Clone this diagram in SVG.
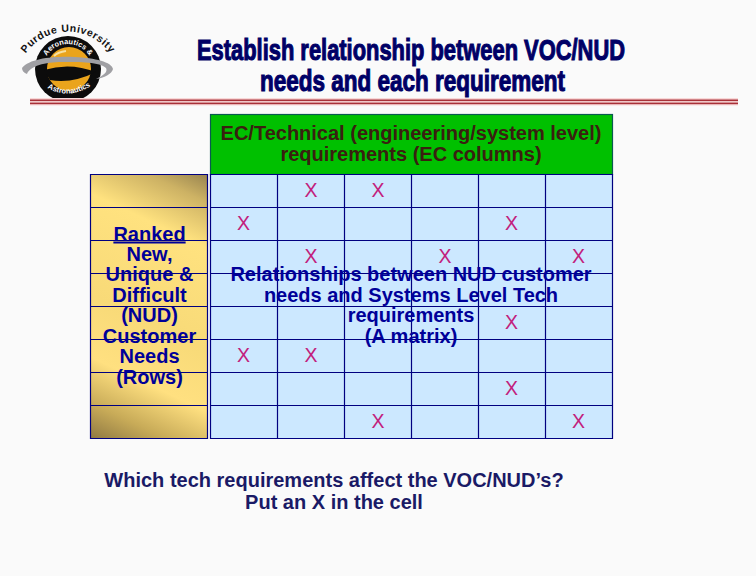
<svg xmlns="http://www.w3.org/2000/svg" width="756" height="576" viewBox="0 0 756 576">
<style>
text{font-family:"Liberation Sans",Arial,sans-serif}
.t{font-size:30px;font-weight:bold;fill:#000066;stroke:#000066;stroke-width:1.1px;text-anchor:start}
.b{font-size:20px;font-weight:bold;fill:#000099;text-anchor:middle}
.h{font-size:20px;font-weight:bold;fill:#3a2010;text-anchor:middle}
.q{font-size:20px;font-weight:bold;fill:#1a1a66;text-anchor:middle}
.x{font-size:19.5px;fill:#c2207c;text-anchor:middle}
.g{stroke:#000080;stroke-width:1.2;fill:none}
.l{font-size:7.5px;font-weight:bold;fill:#fff;text-anchor:middle}
</style>
<defs>
<linearGradient id="gold" gradientUnits="userSpaceOnUse" x1="212" y1="172" x2="86" y2="440">
<stop offset="0" stop-color="#8f7c4c"/><stop offset=".1" stop-color="#cdb264"/><stop offset=".24" stop-color="#ffe27f"/><stop offset=".55" stop-color="#f8da78"/><stop offset=".74" stop-color="#ffe080"/><stop offset=".88" stop-color="#c8ab58"/><stop offset="1" stop-color="#8a7440"/>
</linearGradient>
<path id="arcTop" d="M24 56A52 52 0 0 1 112 56"/>
<path id="arcMid" d="M44 62A25 25 0 0 1 92 62"/>
<path id="arcBot" d="M44 86Q68 102 94 84"/>
</defs>
<rect width="756" height="576" fill="#fafafa"/>
<g id="logo">
<circle cx="68" cy="69" r="33" fill="#0c0c0c"/>
<circle cx="69" cy="69" r="22" fill="#eaa41c"/>
<path d="M44 70Q70 62 96 72Q72 84 50 80Z" fill="#0c0c0c"/>
<path d="M22 68C30 58 55 56 75 57C95 58 112 62 113 69C112 74 104 78 96 79C104 75 108 72 106 68C100 62 80 62 62 62C45 62 30 66 27 74C24 73 22 71 22 68Z" fill="#a0a0a4"/>
<path d="M54 56Q58 52 66 51" fill="none" stroke="#f6e0a0" stroke-width="2"/>
<text font-size="10.5" font-weight="bold" fill="#111" letter-spacing=".5" text-anchor="middle"><textPath href="#arcTop" startOffset="50%">Purdue University</textPath></text>
<text class="l"><textPath href="#arcMid" startOffset="50%">Aeronautics &amp;</textPath></text>
<text class="l"><textPath href="#arcBot" startOffset="50%">Astronautics</textPath></text>
</g>
<g id="rule">
<rect x="30" y="98" width="708" height="7.5" fill="#f8d8d8"/>
<rect x="30" y="99.5" width="708" height="1.6" fill="#a83038"/>
<rect x="30" y="102.6" width="708" height="1.6" fill="#a83038"/>
</g>
<g id="title">
<text class="t" x="197" y="60" textLength="428" lengthAdjust="spacingAndGlyphs">Establish relationship between VOC/NUD</text>
<text class="t" x="260" y="91" textLength="305" lengthAdjust="spacingAndGlyphs">needs and each requirement</text>
</g>
<g id="ec-header">
<rect x="210.5" y="114.5" width="402" height="60" fill="#00c000" stroke="#0a5a50" stroke-width="1.2"/>
<text class="h" x="411" y="140">EC/Technical (engineering/system level)</text>
<text class="h" x="411" y="161">requirements (EC columns)</text>
</g>
<g id="needs-column">
<rect x="90.5" y="174.5" width="117" height="264" fill="url(#gold)"/>
<path class="g" d="M90.5 174.5H207.5V438.5H90.5ZM90.5 207.5H207.5M90.5 240.5H207.5M90.5 273.5H207.5M90.5 306.5H207.5M90.5 339.5H207.5M90.5 372.5H207.5M90.5 405.5H207.5"/>
<text class="b" x="149.5" y="240.500" text-decoration="underline">Ranked</text>
<text class="b" x="149.500" y="261">New,</text>
<text class="b" x="149.500" y="281">Unique &amp;</text>
<text class="b" x="149.500" y="301.500">Difficult</text>
<text class="b" x="149.500" y="322">(NUD)</text>
<text class="b" x="149.500" y="342.500">Customer</text>
<text class="b" x="149.500" y="363">Needs</text>
<text class="b" x="149.500" y="383.500">(Rows)</text>
</g>
<g id="matrix">
<rect x="210.5" y="174.5" width="402" height="264" fill="#cce8ff"/>
<path class="g" d="M210.500 174.500H612.500V438.500H210.500ZM277.500 174.500V438.500M344.500 174.500V438.500M411.500 174.500V438.500M478.500 174.500V438.500M545.500 174.500V438.500M210.500 207.500H612.500M210.500 240.500H612.500M210.500 273.500H612.500M210.500 306.500H612.500M210.500 339.500H612.500M210.500 372.500H612.500M210.500 405.500H612.500"/>
<text class="x" x="311" y="197">X</text><text class="x" x="378" y="197">X</text>
<text class="x" x="243.500" y="230">X</text><text class="x" x="511.500" y="230">X</text>
<text class="x" x="311" y="263">X</text><text class="x" x="445" y="263">X</text><text class="x" x="578.500" y="263">X</text>
<text class="x" x="511.500" y="329">X</text>
<text class="x" x="243.500" y="362">X</text><text class="x" x="311" y="362">X</text>
<text class="x" x="511.500" y="395">X</text>
<text class="x" x="378" y="428">X</text><text class="x" x="578.500" y="428">X</text>
<text class="b" x="411" y="281">Relationships between NUD customer</text>
<text class="b" x="411" y="301.500">needs and Systems Level Tech</text>
<text class="b" x="411" y="322">requirements</text>
<text class="b" x="411" y="342.500">(A matrix)</text>
</g>
<g id="question">
<text class="q" x="334" y="487">Which tech requirements affect the VOC/NUD’s?</text>
<text class="q" x="334" y="509">Put an X in the cell</text>
</g>
</svg>
